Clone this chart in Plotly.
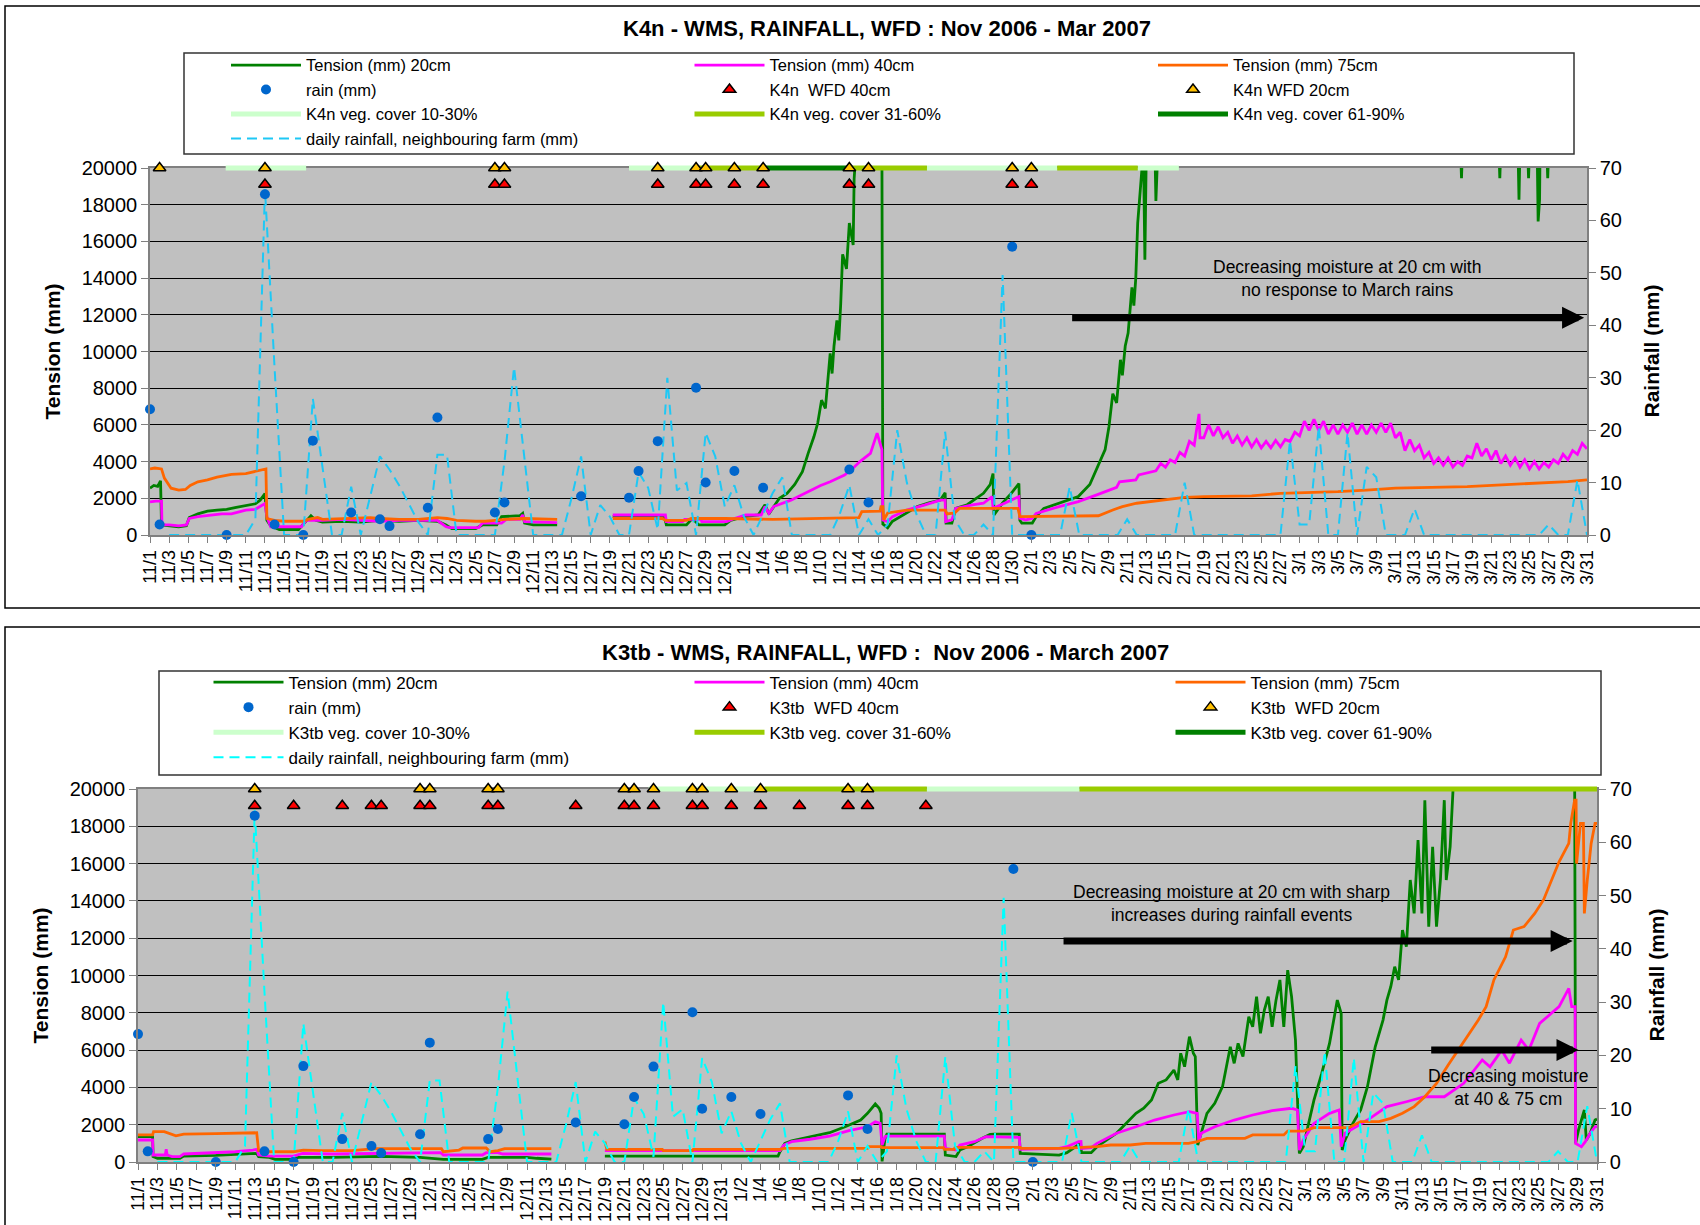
import pandas as pd
import plotly.graph_objects as go

W, H = 1700, 1225
FONT = "Liberation Sans, Arial, Helvetica, sans-serif"
BASE = pd.Timestamp("2006-11-01")
START_DATE, END_DATE = "2006-11-01", "2007-03-31"

# ---------------- data (day offsets from 11/1/2006) ----------------
# daily rainfall at neighbouring farm (mm), one value per day starting 11/3
farm_rain_first_day = 2
farm_rain_mm = [0, 0, 0, 0, 0, 0, 0, 0, 0,
                3, 66, 32, 0, 0, 0, 26, 13, 0, 0,
                9.2, 0, 7.5, 15, 12.5, 9.5, 6, 2.5, 0, 15.3,
                15.3, 0, 0, 0, 0, 0, 14, 32, 16, 0,
                0, 0, 0, 7, 15, 0, 5.7, 3.5, 0, 0,
                12, 9, 1, 30, 8.5, 9.9, 0, 19.5, 15, 5.4,
                9.5, 3.5, 0, 4, 8, 11, 0, 0, 0, 0,
                0, 4, 9.5, 0, 3, 0, 2, 20, 10, 4,
                0, 0, 19.7, 3, 0, 0, 2, 0, 49.6, 0,
                0, 0, 0, 0, 0, 9.2, 0, 0, 0, 0,
                0, 3, 0, 0, 0, 0, 0, 10, 0, 0,
                0, 0, 0, 0, 0, 0, 0, 0, 18, 2,
                2, 20.7, 0, 0, 19.5, 0, 13, 11, 0, 0,
                0, 5, 0, 0, 0, 0, 0, 0, 0, 0,
                0, 0, 0, 0, 0, 2, 0, 0, 10.5, 0]

# on-site rain gauge (mm)
rain_day = [0, 1, 8, 12, 13, 16, 17, 21, 24, 25, 29, 30, 36, 37, 45, 50, 51, 53, 57, 58, 61, 64, 73, 75, 90, 92]
rain_mm = [24, 2, 0, 65, 2, 0, 18, 4.3, 3, 1.7, 5.2, 22.4, 4.3, 6.2, 7.4, 7.1, 12.2, 17.9, 28.1, 10, 12.2, 9,
           12.5, 6.2, 55, 0]

# wetting-front detector events (day offsets)
k4n_wfd20_day = [1, 12, 36, 37, 53, 57, 58, 61, 64, 73, 75, 90, 92]
k4n_wfd40_day = [12, 36, 37, 53, 57, 58, 61, 64, 73, 75, 90, 92]
k3tb_wfd20_day = [12, 29, 30, 36, 37, 50, 51, 53, 57, 58, 61, 64, 73, 75]
k3tb_wfd40_day = [12, 16, 21, 24, 25, 29, 30, 36, 37, 45, 50, 51, 53, 57, 58, 61, 64, 68, 73, 75, 81]
wfd20_level, wfd40_level = 20000, 19100

# vegetation cover periods (start day, end day)
k4n_veg_10_30 = [(7.9, 16.3), (50.0, 56.8), (81.1, 94.7), (103.1, 107.4)]
k4n_veg_31_60 = [(56.8, 64.1), (73.2, 81.1), (94.7, 103.1)]
k4n_veg_61_90 = [(64.1, 73.2)]
k3tb_veg_10_30 = [(52.5, 64.4), (81.1, 96.8)]
k3tb_veg_31_60 = [(64.4, 81.1), (96.8, 150.0)]
k3tb_veg_61_90 = []
veg_level = 20000

# tension (mm): (day, value); (None, None) marks a logging gap
k4n_t20 = [(0.0, 2550), (0.4, 2700), (0.8, 2650), (1.1, 2950), (1.2, 550), (2.0, 500), (3.0, 450), (3.8, 500),
           (4.1, 950), (5.0, 1150), (6.0, 1300), (7.0, 1350), (8.0, 1400), (9.0, 1500), (10.0, 1600), (11.0, 1700),
           (11.5, 1900), (12.0, 2250), (12.2, 800), (12.6, 500), (13.5, 300), (15.5, 300), (16.2, 700), (16.8, 1050),
           (17.3, 800), (18.0, 700), (20.0, 750), (22.0, 700), (24.0, 800), (26.0, 750), (28.0, 800), (30.0, 750),
           (30.9, 550), (31.5, 350), (34.0, 350), (34.7, 550), (36.2, 550), (36.7, 1000), (38.6, 1050), (38.9, 1180),
           (39.1, 650), (40.0, 550), (42.5, 550), (None, None),
           (48.3, 1000), (53.7, 1000), (53.9, 550), (56.0, 550), (56.6, 900), (57.3, 550), (60.0, 550), (60.6, 800),
           (62.0, 1000), (63.5, 1100), (64.2, 1650), (64.6, 1150), (65.7, 2000), (66.5, 2270), (67.3, 2750),
           (68.1, 3450), (68.7, 4450), (69.3, 5350), (69.7, 6100), (70.1, 7350), (70.5, 6900), (70.6, 7600),
           (71.0, 9900), (71.2, 8800), (71.4, 10300), (71.7, 11700), (71.9, 10600), (72.1, 12600), (72.3, 15300),
           (72.7, 14500), (73.0, 17000), (73.4, 15800), (73.5, 19400), (73.7, 21000), (76.4, 21000), (76.5, 600),
           (77.0, 400), (77.5, 750), (79.0, 1200), (80.1, 1550), (81.3, 1750), (82.5, 1900), (83.0, 2300),
           (83.1, 650), (83.7, 650), (84.1, 1450), (85.3, 1650), (87.0, 2270), (87.7, 2750), (88.0, 3350),
           (88.1, 1100), (89.0, 1750), (89.9, 2270), (90.7, 2800), (90.8, 800), (91.0, 650), (92.1, 650),
           (92.5, 1000), (93.3, 1450), (94.9, 1750), (96.9, 2100), (98.1, 2750), (98.9, 3750), (99.7, 4650),
           (100.1, 5900), (100.5, 7700), (100.9, 7200), (101.3, 9550), (101.5, 8700), (101.8, 10300), (102.1, 11000),
           (102.5, 13500), (102.7, 12500), (102.9, 14000), (103.1, 17000), (103.3, 18300), (103.5, 19700),
           (103.7, 21000), (103.85, 15000), (104.0, 21000), (104.9, 21000), (105.0, 18200), (105.2, 21000),
           (136.8, 21000), (136.9, 19450), (137.0, 21000), (140.8, 21000), (140.9, 19450), (141.0, 21000),
           (142.8, 21000), (142.9, 18270), (143.0, 21000), (143.8, 21000), (143.9, 19450), (144.0, 21000),
           (144.8, 21000), (144.9, 17090), (145.05, 18270), (145.1, 21000), (145.8, 21000), (145.9, 19450),
           (146.0, 21000), (150.0, 21000)]

k4n_t40 = [(0, 1800), (0.6, 1850), (1.2, 1850), (1.25, 550), (2, 550), (3, 500), (3.8, 550), (4.1, 900), (5, 1000),
           (6, 1050), (7.5, 1150), (8.5, 1150), (10, 1350), (11, 1400), (11.5, 1550), (12, 1720), (12.2, 1000),
           (12.6, 450), (15.8, 450), (16.3, 800), (18, 800), (20, 850), (22, 800), (24, 750), (26, 800), (28, 800),
           (30, 800), (30.9, 450), (31.3, 400), (34.3, 400), (34.7, 650), (36.7, 650), (37.2, 850), (38.6, 850),
           (38.9, 1090), (39.1, 730), (42.5, 670), (None, None),
           (48.3, 1090), (53.8, 1090), (53.9, 730), (55.6, 730), (55.8, 850), (57.5, 850), (57.6, 730), (60.2, 730),
           (61, 900), (62.2, 1090), (63.8, 1090), (64.2, 1550), (64.6, 1180), (65.1, 1550), (66.9, 1900), (68, 2200),
           (69, 2450), (70, 2700), (71, 2900), (72.5, 3270), (73.3, 3600), (74.1, 4000), (75.2, 4450), (75.9, 5550),
           (76.2, 5000), (76.4, 4650), (76.5, 820), (77, 730), (77.5, 1000), (79, 1360), (80.9, 1640), (82.5, 1900),
           (83, 1900), (83.05, 730), (83.7, 820), (84.1, 1450), (86, 1650), (87, 1730), (87.9, 2090), (88.0, 1450),
           (89.2, 1730), (90.7, 2090), (90.8, 910), (91.4, 820), (92.1, 910), (92.5, 1180), (94.9, 1550),
           (96.9, 1820), (98.9, 2200), (100.9, 2600), (101.2, 2900), (102.9, 3000), (103.2, 3270), (104.5, 3450),
           (105.0, 3500), (105.5, 3900), (106.0, 3700), (106.5, 4100), (107.0, 3950), (107.5, 4500), (108.0, 4300),
           (108.5, 5100), (109.0, 4900), (109.5, 6600), (109.6, 5300), (110.0, 5300), (110.5, 6000), (111.0, 5400),
           (111.5, 5900), (112.0, 5300), (112.5, 5600), (113.0, 5000), (113.5, 5400), (114.0, 4900), (114.5, 5300),
           (115.0, 4800), (115.5, 5200), (116.0, 4750), (116.5, 5100), (117.0, 4750), (117.5, 5150), (118.0, 4800),
           (118.5, 5200), (119.0, 5100), (119.5, 5600), (120.0, 5400), (120.5, 6200), (121.0, 5700), (121.5, 6300),
           (122.0, 5700), (122.5, 6200), (123.0, 5500), (123.5, 6000), (124.0, 5500), (124.5, 6000), (125.0, 5600),
           (125.5, 6100), (126.0, 5500), (126.5, 6000), (127.0, 5500), (127.5, 6000), (128.0, 5600), (128.5, 6100),
           (129.0, 5600), (129.5, 6100), (130.0, 5300), (130.5, 5600), (131.0, 4600), (131.5, 5200), (132.0, 4600),
           (132.5, 4900), (133.0, 4200), (133.5, 4500), (134.0, 3900), (134.5, 4200), (135.0, 3800), (135.5, 4200),
           (136.0, 3700), (136.5, 4000), (137.0, 3800), (137.5, 4300), (138.0, 4200), (138.5, 5000), (139.0, 4300),
           (139.5, 4700), (140.0, 4100), (140.5, 4600), (141.0, 3900), (141.5, 4300), (142.0, 3800), (142.5, 4200),
           (143.0, 3700), (143.5, 4100), (144.0, 3600), (144.5, 4000), (145.0, 3600), (145.5, 3950), (146.0, 3700),
           (146.5, 4100), (147.0, 3900), (147.5, 4400), (148.0, 4100), (148.5, 4600), (149.0, 4400), (149.5, 5000),
           (150.0, 4700)]

k4n_t75 = [(0, 3600), (0.5, 3650), (1.2, 3600), (1.5, 3100), (2.2, 2550), (3, 2450), (3.7, 2480), (4.2, 2700),
           (5, 2900), (6, 3000), (7, 3150), (8.5, 3300), (10, 3350), (11, 3450), (11.8, 3550), (12.1, 3600),
           (12.2, 900), (13, 800), (14, 750), (16, 750), (16.5, 850), (17.5, 950), (18, 850), (20, 900), (22, 950),
           (23, 950), (24, 900), (26, 850), (28, 850), (30, 950), (31, 900), (32, 800), (34, 750), (35, 750),
           (36, 800), (37, 850), (39, 900), (41, 850), (42.5, 850), (None, None),
           (48.3, 900), (53.5, 900), (53.8, 800), (56, 800), (56.5, 900), (60, 900), (65, 850), (70, 900), (74, 950),
           (74.3, 1270), (76.2, 1300), (76.3, 1540), (76.5, 1540), (76.6, 820), (77, 1200), (79, 1360), (83, 1360),
           (83.2, 1150), (84, 1200), (84.5, 1450), (90.6, 1450), (90.8, 1000), (99, 1050), (100.5, 1360),
           (101.5, 1550), (103, 1730), (105, 1850), (108, 2050), (110, 2090), (115, 2130), (118, 2270), (121, 2300),
           (124, 2360), (127, 2450), (130, 2550), (137.5, 2640), (141, 2730), (145.5, 2820), (148, 2910), (150, 3000)]

k3tb_t20 = [(0, 1360), (1.5, 1360), (1.55, 290), (2, 200), (4.3, 200), (4.7, 320), (8, 350), (10, 400), (11.8, 460),
            (12.2, 460), (12.4, 290), (13.5, 250), (14.1, 140), (15.7, 140), (16.5, 250), (20, 250), (25, 300),
            (29, 250), (31.4, 140), (35.4, 140), (36, 250), (40, 250), (41, 200), (42.5, 150), (None, None),
            (48.0, 320), (65.8, 320), (66.0, 550), (66.5, 1000), (67.2, 1140), (69.1, 1360), (71.1, 1570),
            (72.7, 1890), (74.3, 2250), (75.0, 2610), (75.8, 3110), (76.2, 2880), (76.4, 2610), (76.5, 30),
            (76.8, 1270), (77.0, 1500), (82.9, 1500), (83.0, 370), (84.1, 290), (84.5, 640), (85.3, 820),
            (86.8, 1270), (87.6, 1480), (88.0, 1500), (90.6, 1500), (90.7, 460), (94.7, 370), (95.5, 500),
            (96.7, 910), (96.9, 1000), (97.0, 500), (98.0, 500), (98.6, 820), (100.6, 1540), (102.6, 2610),
            (103.4, 2880), (104.2, 3320), (104.9, 4220), (105.7, 4400), (106.5, 4930), (106.9, 4400), (107.2, 5830),
            (107.6, 5110), (108.1, 6720), (108.5, 5830), (108.7, 5650), (108.95, 910), (109.3, 1540), (109.9, 2610),
            (110.7, 3150), (111.5, 4040), (112.3, 6180), (112.7, 5290), (113.1, 6360), (113.6, 5650), (114.2, 7790),
            (114.6, 7250), (115.0, 8860), (115.4, 6900), (115.8, 8150), (116.2, 8860), (116.6, 7250), (117.0, 8680),
            (117.4, 9760), (117.8, 7250), (118.2, 10290), (118.6, 8860), (119.0, 6540), (119.4, 460), (119.8, 820),
            (120.9, 3320), (121.7, 4750), (122.5, 6360), (123.3, 8680), (123.7, 7970), (123.8, 640), (124.1, 1180),
            (124.9, 2070), (125.7, 2790), (126.4, 4040), (127.2, 6180), (128.0, 7610), (128.4, 8680), (128.8, 9400),
            (129.2, 10470), (129.6, 9760), (130.0, 12440), (130.4, 11540), (130.8, 15120), (131.2, 13330),
            (131.6, 17260), (132.0, 13330), (132.3, 19400), (132.7, 12620), (133.1, 16900), (133.5, 12620),
            (133.9, 15120), (134.3, 19400), (134.5, 15120), (134.9, 16900), (135.1, 19700), (135.3, 21000),
            (147.7, 21000), (147.8, 1000), (148.1, 1720), (148.7, 2790), (148.9, 1180), (149.3, 1540),
            (149.8, 2250), (150, 2300)]

k3tb_t40 = [(0, 1180), (1.5, 1180), (1.55, 375), (2.8, 375), (2.9, 680), (3.0, 375), (3.5, 285), (4.3, 285),
            (4.7, 430), (7, 465), (10, 550), (11.8, 640), (12.2, 680), (12.4, 375), (13.5, 320), (16, 320),
            (16.9, 465), (20, 430), (25, 450), (29.1, 500), (31.1, 500), (31.4, 375), (35.4, 375), (35.8, 500),
            (37, 500), (37.5, 430), (42.5, 430), (None, None),
            (48.0, 610), (66.0, 610), (66.4, 910), (67.2, 1090), (69.1, 1220), (71.1, 1390), (73.1, 1680),
            (75.0, 1890), (75.8, 2160), (76.3, 2070), (76.5, 910), (76.8, 1360), (77.0, 1390), (82.9, 1390),
            (83.0, 730), (84.1, 640), (84.5, 910), (86.0, 1090), (86.8, 1270), (87.2, 1360), (90.6, 1320),
            (90.7, 680), (94.7, 730), (95.5, 820), (96.7, 1090), (96.95, 1100), (97.0, 730), (98.0, 770),
            (98.6, 1000), (100.6, 1540), (102.6, 1890), (104.5, 2250), (106.5, 2520), (108.1, 2700), (108.9, 2610),
            (109.05, 1090), (109.3, 1540), (110.7, 1890), (112.7, 2250), (114.6, 2520), (116.6, 2750), (118.6, 2880),
            (119.2, 2790), (119.4, 640), (119.8, 1180), (120.9, 2070), (122.5, 2610), (123.5, 2790), (123.7, 820),
            (124.1, 1540), (126.4, 2250), (128.4, 2970), (130.4, 3230), (132.3, 3500), (134.3, 3500), (136.3, 4220),
            (138.2, 5470), (139.0, 5100), (140.2, 6000), (141.0, 5300), (142.2, 6540), (143.0, 6000), (144.1, 7430),
            (146.1, 8330), (147.1, 9310), (147.4, 8330), (147.75, 8330), (147.8, 1000), (148.4, 820), (148.8, 1090),
            (149.3, 1540), (149.8, 1890), (150, 1900)]

k3tb_t75 = [(0, 1450), (1.5, 1450), (1.6, 1630), (2.7, 1630), (3.9, 1400), (4.7, 1500), (8, 1520), (12.2, 1570),
            (12.4, 610), (13, 550), (16, 550), (17, 640), (19, 610), (22, 610), (24.4, 715), (28, 715), (31.2, 715),
            (31.4, 554), (33.0, 640), (33.4, 750), (35.8, 750), (36.2, 554), (37, 610), (37.7, 715), (42.5, 715),
            (None, None),
            (48.0, 1090), (48.2, 680), (53.9, 680), (54, 607), (57, 607), (57.1, 680), (66, 680), (66.4, 733),
            (75, 733), (75.1, 822), (76.4, 822), (76.5, 768), (82.8, 768), (82.9, 680), (83.9, 680), (84.0, 786),
            (90.7, 786), (90.8, 733), (95, 733), (98.6, 822), (100.0, 911), (102, 911), (103.6, 1000), (108, 1000),
            (108.9, 1090), (109.9, 1270), (113.8, 1270), (114.6, 1450), (117.8, 1450), (118.2, 1660), (119.8, 1660),
            (120.9, 1840), (124.5, 1840), (125.7, 2160), (127.6, 2160), (128.8, 2340), (130.0, 2610), (131.2, 2970),
            (132.3, 3500), (133.5, 4220), (134.7, 5200), (135.5, 5830), (136.7, 6810), (137.8, 7610), (138.6, 8330),
            (139.4, 9760), (140.6, 11000), (141.4, 12440), (142.5, 12620), (143.6, 13330), (144.5, 14050),
            (145.3, 15120), (146.1, 16100), (147.1, 17080), (147.3, 18160), (147.7, 19400), (147.85, 19400),
            (147.9, 16000), (148.1, 17080), (148.3, 18160), (148.6, 18160), (148.7, 13330), (149.0, 15120),
            (149.4, 17080), (149.8, 18160), (150, 18160)]


# ---------------- helpers ----------------
def to_dates(days):
    return [None if d is None else (BASE + pd.Timedelta(days=float(d))).strftime("%Y-%m-%d %H:%M:%S")
            for d in days]


def unzip(pairs):
    return to_dates([p[0] for p in pairs]), [p[1] for p in pairs]


def seg_xy(segs, level):
    xs, ys = [], []
    for a, b in segs:
        xs += [a, b, None]
        ys += [level, level, None]
    return to_dates(xs), ys


def px(x):
    """window pixel (x) -> paper fraction"""
    return x / W


def py(y):
    """window pixel (y, from top) -> paper fraction"""
    return 1 - y / H


C20, C40, C75 = "#008000", "#FF00FF", "#FF6600"
RAIN_C = "#0066CC"
VEG1, VEG2, VEG3 = "#CCFFCC", "#99CC00", "#008000"

charts = [
    dict(site="K4n", t20=k4n_t20, t40=k4n_t40, t75=k4n_t75, wfd20=k4n_wfd20_day, wfd40=k4n_wfd40_day,
         veg=[k4n_veg_10_30, k4n_veg_31_60, k4n_veg_61_90], wfd40_name="K4n  WFD 40cm",
         wfd20_name="K4n WFD 20cm", farm_color="#1EC8F5",
         ax=dict(x="x", y="y", y2="y2", sx="x3", sy="y5"), legend="legend",
         plot=(150, 168, 1587, 535)),
    dict(site="K3tb", t20=k3tb_t20, t40=k3tb_t40, t75=k3tb_t75, wfd20=k3tb_wfd20_day, wfd40=k3tb_wfd40_day,
         veg=[k3tb_veg_10_30, k3tb_veg_31_60, k3tb_veg_61_90], wfd40_name="K3tb  WFD 40cm",
         wfd20_name="K3tb  WFD 20cm", farm_color="#00FFFF",
         ax=dict(x="x2", y="y3", y2="y4", sx="x4", sy="y6"), legend="legend2",
         plot=(138, 789, 1597, 1162)),
]

fig = go.Figure()
farm_x = to_dates(list(range(farm_rain_first_day, farm_rain_first_day + len(farm_rain_mm))))

for ch in charts:
    a = ch["ax"]
    lg = ch["legend"]
    site = ch["site"]
    for key, name, col, rank in [("t20", "Tension (mm) 20cm", C20, 1), ("t40", "Tension (mm) 40cm", C40, 2),
                                 ("t75", "Tension (mm) 75cm", C75, 3)]:
        xx, yy = unzip(ch[key])
        fig.add_trace(go.Scatter(x=xx, y=yy, mode="lines", name=name, line=dict(color=col, width=2.8),
                                 xaxis=a["x"], yaxis=a["y"], legend=lg, legendrank=rank, connectgaps=False))
    fig.add_trace(go.Scatter(x=farm_x, y=farm_rain_mm, mode="lines", name="daily rainfall, neighbouring farm (mm)",
                             line=dict(color=ch["farm_color"], width=2, dash="10px,6px"),
                             xaxis=a["x"], yaxis=a["y2"], legend=lg, legendrank=10))
    fig.add_trace(go.Scatter(x=to_dates(rain_day), y=rain_mm, mode="markers", name="rain (mm)",
                             marker=dict(color=RAIN_C, size=10), cliponaxis=False,
                             xaxis=a["x"], yaxis=a["y2"], legend=lg, legendrank=4))
    for segs, col, lab, rank in zip(ch["veg"], [VEG1, VEG2, VEG3], ["10-30%", "31-60%", "61-90%"], [7, 8, 9]):
        vx, vy = seg_xy(segs, veg_level)
        if not vx:
            vx, vy = [None], [None]
        fig.add_trace(go.Scatter(x=vx, y=vy, mode="lines", name=f"{site} veg. cover {lab}",
                                 line=dict(color=col, width=5), xaxis=a["sx"], yaxis=a["sy"],
                                 legend=lg, legendrank=rank))
    fig.add_trace(go.Scatter(x=to_dates(ch["wfd40"]), y=[wfd40_level] * len(ch["wfd40"]), mode="markers",
                             name=ch["wfd40_name"], cliponaxis=False,
                             marker=dict(symbol="triangle-up", size=11, color="#FF0000",
                                         line=dict(color="black", width=1.5)),
                             xaxis=a["sx"], yaxis=a["sy"], legend=lg, legendrank=5))
    fig.add_trace(go.Scatter(x=to_dates(ch["wfd20"]), y=[wfd20_level] * len(ch["wfd20"]), mode="markers",
                             name=ch["wfd20_name"], cliponaxis=False,
                             marker=dict(symbol="triangle-up", size=11, color="#FFC000",
                                         line=dict(color="black", width=1.5)),
                             xaxis=a["sx"], yaxis=a["sy"], legend=lg, legendrank=6))

# ---------------- layout ----------------
tickfont_x = dict(size=18, color="black", family=FONT)
tickfont_y = dict(size=20, color="black", family=FONT)
LINE_C = "#808080"

layout = dict(template="none", width=W, height=H,
              margin=dict(l=0, r=0, t=0, b=0, pad=0, autoexpand=False),
              paper_bgcolor="white", plot_bgcolor="rgba(0,0,0,0)",
              font=dict(family=FONT, color="black"), showlegend=True)

shapes = []
annotations = []
for i, ch in enumerate(charts):
    L, T, R, B = ch["plot"]
    xdom = [px(L), px(R)]
    ydom = [py(B), py(T)]
    a = ch["ax"]
    xn = "xaxis" if a["x"] == "x" else "xaxis" + a["x"][1:]
    yn = "yaxis" if a["y"] == "y" else "yaxis" + a["y"][1:]
    y2n = "yaxis" + a["y2"][1:]
    sxn = "xaxis" + a["sx"][1:]
    syn = "yaxis" + a["sy"][1:]
    layout[xn] = dict(domain=xdom, anchor=a["y"], type="date", range=[START_DATE, END_DATE], tick0=START_DATE,
                      dtick=2 * 86400000, tickformat="%-m/%-d", tickangle=-90, ticks="outside", ticklen=6,
                      tickcolor=LINE_C, showline=True, linecolor=LINE_C, linewidth=1.5, mirror=True,
                      showgrid=False, zeroline=False, automargin=False, tickfont=tickfont_x)
    layout[yn] = dict(domain=ydom, anchor=a["x"], range=[0, 20000], tick0=0, dtick=2000, tickformat="d",
                      showgrid=True, gridcolor="black", gridwidth=1, ticks="outside", ticklen=7, tickcolor=LINE_C,
                      showline=True, linecolor=LINE_C, linewidth=1.5, zeroline=False, automargin=False,
                      tickfont=tickfont_y)
    layout[y2n] = dict(overlaying=a["y"], side="right", anchor=a["x"], range=[0, 70], tick0=0, dtick=10,
                       ticks="outside", ticklen=7, tickcolor=LINE_C, showline=True, linecolor=LINE_C,
                       linewidth=1.5, showgrid=False, zeroline=False, automargin=False, tickfont=tickfont_y)
    # thin strip along the top edge for the markers/bars sitting on the 20000 line
    lo, hi = 18600, 20400
    f = lambda v: ydom[0] + (ydom[1] - ydom[0]) * v / 20000.0
    layout[sxn] = dict(domain=xdom, anchor=a["sy"], type="date", range=[START_DATE, END_DATE], visible=False,
                       showgrid=False, zeroline=False, automargin=False)
    layout[syn] = dict(domain=[f(lo), f(hi)], anchor=a["sx"], range=[lo, hi], visible=False, showgrid=False,
                       zeroline=False, automargin=False)
    # grey plot area
    shapes.append(dict(type="rect", xref="paper", yref="paper", x0=xdom[0], x1=xdom[1], y0=ydom[0], y1=ydom[1],
                       fillcolor="#C0C0C0", line=dict(width=0), layer="below"))

# outer frames and legend boxes
shapes.append(dict(type="rect", xref="paper", yref="paper", x0=px(5), x1=1.05, y0=py(608), y1=py(6),
                   line=dict(color="black", width=1.5), layer="below"))
shapes.append(dict(type="rect", xref="paper", yref="paper", x0=px(5), x1=1.05, y0=-0.05, y1=py(627),
                   line=dict(color="black", width=1.5), layer="below"))
shapes.append(dict(type="rect", xref="paper", yref="paper", x0=px(184), x1=px(1574), y0=py(154), y1=py(53),
                   line=dict(color="#333333", width=1.5), layer="below"))
shapes.append(dict(type="rect", xref="paper", yref="paper", x0=px(159), x1=px(1601), y0=py(775), y1=py(671),
                   line=dict(color="#333333", width=1.5), layer="below"))

# titles
annotations.append(dict(text="<b>K4n - WMS, RAINFALL, WFD : Nov 2006 - Mar 2007</b>", xref="paper", yref="paper",
                        x=px(887), y=py(29), xanchor="center", yanchor="middle", showarrow=False,
                        font=dict(size=22, family=FONT)))
annotations.append(dict(text="<b>K3tb - WMS, RAINFALL, WFD :  Nov 2006 - March 2007</b>", xref="paper",
                        yref="paper", x=px(886), y=py(652), xanchor="center", yanchor="middle", showarrow=False,
                        font=dict(size=22, family=FONT)))
# axis titles
for xp, yp, txt in [(52, 351.5, "Tension (mm)"), (1651, 351.5, "Rainfall (mm)"),
                    (40, 975.5, "Tension (mm)"), (1656, 975.5, "Rainfall (mm)")]:
    annotations.append(dict(text=f"<b>{txt}</b>", xref="paper", yref="paper", x=px(xp), y=py(yp),
                            xanchor="center", yanchor="middle", textangle=-90, showarrow=False,
                            font=dict(size=21, family=FONT)))


# notes and arrows (positions in data units)
def d1(day):
    return to_dates([day])[0]


notes = [("x", "y", 124.9, 14005, "Decreasing moisture at 20 cm with<br>no response to March rains"),
         ("x2", "y3", 112.4, 13834, "Decreasing moisture at 20 cm with sharp<br>increases during rainfall events"),
         ("x2", "y3", 140.8, 4021, "Decreasing moisture<br>at 40 & 75 cm")]
for xr, yr, dx, yv, txt in notes:
    annotations.append(dict(text=txt, xref=xr, yref=yr, x=d1(dx), y=yv, showarrow=False, align="center",
                            xanchor="center", yanchor="middle", font=dict(size=17.5, family=FONT)))
arrows = [("x", "y", 96.1, 149.7, 11842), ("x2", "y3", 95.0, 147.5, 11850), ("x2", "y3", 132.8, 148.1, 6005)]
for xr, yr, d0, d1_, yv in arrows:
    annotations.append(dict(text="", xref=xr, yref=yr, axref=xr, ayref=yr, x=d1(d1_), y=yv, ax=d1(d0), ay=yv,
                            showarrow=True, arrowhead=2, arrowsize=0.63, arrowwidth=7, arrowcolor="black",
                            standoff=0))

leg_common = dict(orientation="h", xanchor="left", yanchor="top", entrywidthmode="pixels", itemwidth=70,
                  bgcolor="rgba(0,0,0,0)", borderwidth=0, traceorder="normal", itemclick=False,
                  itemdoubleclick=False)
layout["legend"] = dict(leg_common, x=px(226), y=py(47.8), entrywidth=378.5, font=dict(size=16.5, family=FONT))
layout["legend2"] = dict(leg_common, x=px(208.5), y=py(664.5), entrywidth=396, font=dict(size=17, family=FONT))
layout["shapes"] = shapes
layout["annotations"] = annotations

fig.update_layout(**layout)
fig.write_html("out.html")
